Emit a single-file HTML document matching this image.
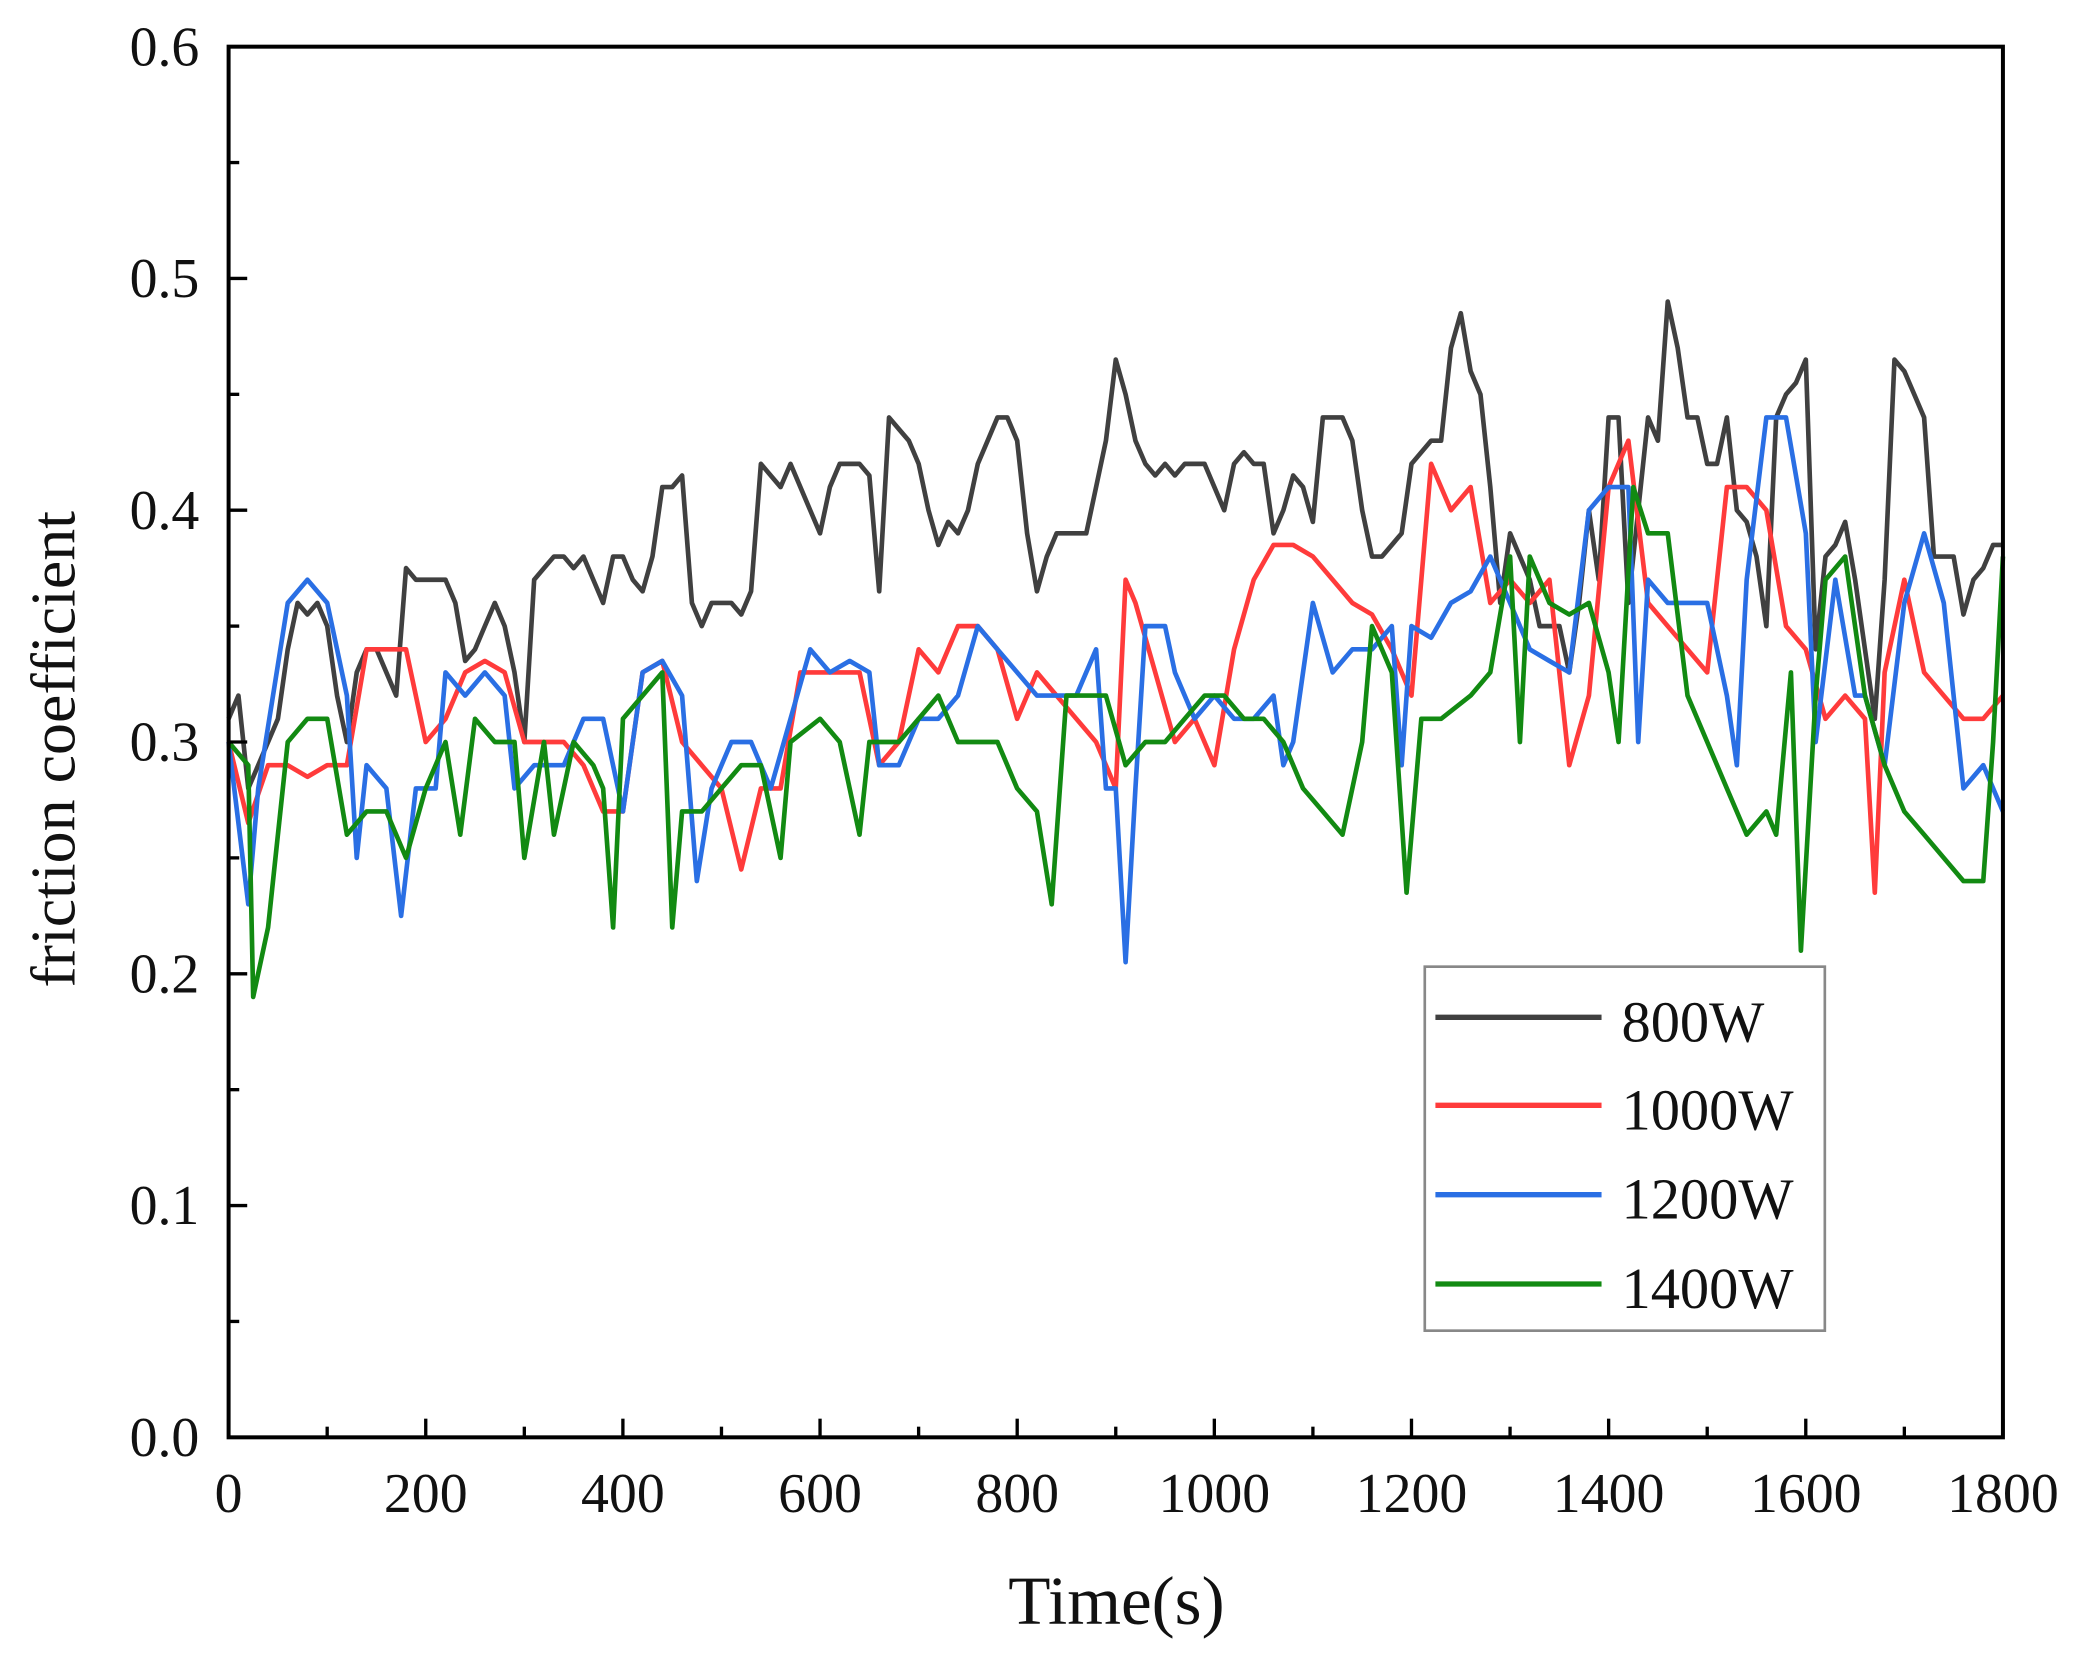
<!DOCTYPE html>
<html><head><meta charset="utf-8"><style>
html,body{margin:0;padding:0;background:#fff;}
svg{display:block;}
text{font-family:"Liberation Serif",serif;fill:#111;}
</style></head><body>
<svg id="chart" width="2084" height="1664" viewBox="0 0 1568 1248" preserveAspectRatio="none" xmlns="http://www.w3.org/2000/svg">
<g id="series"></g>
<g id="axes"></g>
<text x="840" y="1218" font-size="52" text-anchor="middle">Time(s)</text>
<text x="0" y="0" font-size="48" text-anchor="middle" transform="translate(56,562) rotate(-90)">friction coefficient</text>
<g>
<rect x="1072" y="725" width="301" height="273" fill="#fff" stroke="#888" stroke-width="2"/>
<line x1="1080" y1="763" x2="1205" y2="763" stroke="#404040" stroke-width="4"/>
<text x="1220" y="781" font-size="44">800W</text>
<line x1="1080" y1="829" x2="1205" y2="829" stroke="#ff3b3b" stroke-width="4"/>
<text x="1220" y="847" font-size="44">1000W</text>
<line x1="1080" y1="896" x2="1205" y2="896" stroke="#2a6fe4" stroke-width="4"/>
<text x="1220" y="914" font-size="44">1200W</text>
<line x1="1080" y1="963" x2="1205" y2="963" stroke="#128a12" stroke-width="4"/>
<text x="1220" y="981" font-size="44">1400W</text>
</g>
</svg>
<script>
const xTicks = [0,200,400,600,800,1000,1200,1400,1600,1800];
const yTicks = [0.0,0.1,0.2,0.3,0.4,0.5,0.6];
const yTickLabels = ["0.0","0.1","0.2","0.3","0.4","0.5","0.6"];
const seriesNames = ["800W","1000W","1200W","1400W"];

const t800 = [];
for (let i=0;i<=180;i++) t800.push(i*10);
const v800 = [0.31,0.32,0.28,0.29,0.30,0.31,0.34,0.36,0.355,0.36,0.35,0.32,0.30,0.33,0.34,0.34,0.33,0.32,0.375,0.37,0.37,0.37,0.37,0.36,0.335,0.34,0.35,0.36,0.35,0.33,0.30,0.37,0.375,0.38,0.38,0.375,0.38,0.37,0.36,0.38,0.38,0.37,0.365,0.38,0.41,0.41,0.415,0.36,0.35,0.36,0.36,0.36,0.355,0.365,0.42,0.415,0.41,0.42,0.41,0.40,0.39,0.41,0.42,0.42,0.42,0.415,0.365,0.44,0.435,0.43,0.42,0.40,0.385,0.395,0.39,0.40,0.42,0.43,0.44,0.44,0.43,0.39,0.365,0.38,0.39,0.39,0.39,0.39,0.41,0.43,0.465,0.45,0.43,0.42,0.415,0.42,0.415,0.42,0.42,0.42,0.41,0.40,0.42,0.425,0.42,0.42,0.39,0.40,0.415,0.41,0.395,0.44,0.44,0.44,0.43,0.40,0.38,0.38,0.385,0.39,0.42,0.425,0.43,0.43,0.47,0.485,0.46,0.45,0.41,0.36,0.39,0.38,0.37,0.35,0.35,0.35,0.33,0.36,0.40,0.37,0.44,0.44,0.36,0.40,0.44,0.43,0.49,0.47,0.44,0.44,0.42,0.42,0.44,0.40,0.395,0.38,0.35,0.44,0.45,0.455,0.465,0.34,0.38,0.385,0.395,0.37,0.34,0.31,0.37,0.465,0.46,0.45,0.44,0.38,0.38,0.38,0.355,0.37,0.375,0.385,0.385];

const t1000 = [0,20,40,60,80,100,120,140,160,180,200,220,240,260,280,300,320,340,360,380,400,420,440,460,480,500,520,540,560,580,600,620,640,660,680,700,720,740,760,780,800,820,840,860,880,900,910,920,940,960,980,1000,1020,1040,1060,1080,1100,1120,1140,1160,1180,1200,1220,1240,1260,1280,1300,1320,1340,1360,1380,1400,1420,1440,1460,1480,1500,1520,1540,1560,1580,1600,1620,1640,1660,1670,1680,1700,1720,1740,1760,1780,1800];
const v1000 = [0.30,0.265,0.29,0.29,0.285,0.29,0.29,0.34,0.34,0.34,0.30,0.31,0.33,0.335,0.33,0.30,0.30,0.30,0.29,0.27,0.27,0.33,0.335,0.30,0.29,0.28,0.245,0.28,0.28,0.33,0.33,0.33,0.33,0.29,0.30,0.34,0.33,0.35,0.35,0.34,0.31,0.33,0.32,0.31,0.30,0.28,0.37,0.36,0.33,0.30,0.31,0.29,0.34,0.37,0.385,0.385,0.38,0.37,0.36,0.355,0.34,0.32,0.42,0.40,0.41,0.36,0.37,0.36,0.37,0.29,0.32,0.41,0.43,0.36,0.35,0.34,0.33,0.41,0.41,0.40,0.35,0.34,0.31,0.32,0.31,0.235,0.33,0.37,0.33,0.32,0.31,0.31,0.32];

const t1200 = [0,20,30,60,80,100,120,130,140,160,175,190,210,220,240,260,280,290,310,340,360,380,400,420,440,460,475,490,510,530,550,570,590,610,630,650,660,680,700,720,740,760,780,800,820,840,860,880,890,900,910,920,930,950,960,980,1000,1020,1040,1060,1070,1080,1100,1120,1140,1160,1180,1190,1200,1220,1240,1260,1280,1300,1320,1340,1360,1380,1400,1420,1430,1440,1460,1480,1500,1520,1530,1540,1560,1580,1600,1610,1630,1650,1660,1680,1700,1720,1740,1760,1780,1800];
const v1200 = [0.30,0.23,0.28,0.36,0.37,0.36,0.32,0.25,0.29,0.28,0.225,0.28,0.28,0.33,0.32,0.33,0.32,0.28,0.29,0.29,0.31,0.31,0.27,0.33,0.335,0.32,0.24,0.28,0.30,0.30,0.28,0.31,0.34,0.33,0.335,0.33,0.29,0.29,0.31,0.31,0.32,0.35,0.34,0.33,0.32,0.32,0.32,0.34,0.28,0.28,0.205,0.28,0.35,0.35,0.33,0.31,0.32,0.31,0.31,0.32,0.29,0.30,0.36,0.33,0.34,0.34,0.35,0.29,0.35,0.345,0.36,0.365,0.38,0.36,0.34,0.335,0.33,0.40,0.41,0.41,0.30,0.37,0.36,0.36,0.36,0.32,0.29,0.37,0.44,0.44,0.39,0.30,0.37,0.32,0.32,0.29,0.36,0.39,0.36,0.28,0.29,0.27];

const t1400 = [0,20,25,40,60,80,100,120,140,160,180,200,220,235,250,270,290,300,320,330,350,370,380,390,400,420,440,450,460,480,500,520,540,560,570,600,620,640,650,680,700,720,740,760,780,800,820,835,850,870,890,910,930,950,970,990,1010,1030,1050,1070,1090,1110,1130,1150,1160,1180,1195,1210,1230,1260,1280,1300,1310,1320,1340,1360,1380,1400,1410,1425,1440,1460,1480,1500,1520,1540,1560,1570,1585,1595,1610,1620,1640,1660,1680,1700,1720,1740,1760,1780,1790,1800];
const v1400 = [0.30,0.29,0.19,0.22,0.30,0.31,0.31,0.26,0.27,0.27,0.25,0.28,0.30,0.26,0.31,0.30,0.30,0.25,0.30,0.26,0.30,0.29,0.28,0.22,0.31,0.32,0.33,0.22,0.27,0.27,0.28,0.29,0.29,0.25,0.30,0.31,0.30,0.26,0.30,0.30,0.31,0.32,0.30,0.30,0.30,0.28,0.27,0.23,0.32,0.32,0.32,0.29,0.30,0.30,0.31,0.32,0.32,0.31,0.31,0.30,0.28,0.27,0.26,0.30,0.35,0.33,0.235,0.31,0.31,0.32,0.33,0.38,0.30,0.38,0.36,0.355,0.36,0.33,0.30,0.41,0.39,0.39,0.32,0.30,0.28,0.26,0.27,0.26,0.33,0.21,0.32,0.37,0.38,0.32,0.29,0.27,0.26,0.25,0.24,0.24,0.30,0.38];

const X0=172, X1=1507, Y0=1078, Y1=35;
function xs(t){return X0+(t/1800)*(X1-X0);}
function ys(v){return Y0-(v/0.6)*(Y0-Y1);}
const NS="http://www.w3.org/2000/svg";
const sg=document.getElementById('series');
const ag=document.getElementById('axes');
function mk(tag,attrs){const e=document.createElementNS(NS,tag);for(const k in attrs)e.setAttribute(k,attrs[k]);return e;}

const allT=[t800,t1000,t1200,t1400], allV=[v800,v1000,v1200,v1400];
const colors=["#404040","#ff3b3b","#2a6fe4","#128a12"];
for(let s=0;s<4;s++){
  const pts=allT[s].map((t,i)=>xs(t).toFixed(1)+","+ys(allV[s][i]).toFixed(1)).join(" ");
  const pl=mk('polyline',{points:pts,fill:"none",stroke:colors[s],"stroke-width":"3.5","stroke-linejoin":"round"});
  
  
  sg.appendChild(pl);
}
const frame=mk('rect',{x:X0,y:Y1,width:X1-X0,height:Y0-Y1,fill:"none",stroke:"#000","stroke-width":"3"});


ag.appendChild(frame);
for(let t=0;t<=1800;t+=100){
  const major=t%200===0;
  const tk=mk('line',{x1:xs(t),x2:xs(t),y1:Y0,y2:Y0-(major?14:8),stroke:"#000","stroke-width":"2.5"});
  
  
  ag.appendChild(tk);
}
xTicks.forEach(t=>{
  const tx=mk('text',{x:xs(t),y:1134,"font-size":"42","text-anchor":"middle"});
  tx.textContent=String(t);
  
  
  ag.appendChild(tx);
});
for(let k=0;k<=12;k++){
  const v=k*0.05, major=k%2===0;
  const tk=mk('line',{x1:X0,x2:X0+(major?14:8),y1:ys(v),y2:ys(v),stroke:"#000","stroke-width":"2.5"});
  
  
  ag.appendChild(tk);
}
yTicks.forEach((v,i)=>{
  const tx=mk('text',{x:150,y:ys(v)+14,"font-size":"42","text-anchor":"end"});
  tx.textContent=yTickLabels[i];
  
  
  ag.appendChild(tx);
});
</script>
</body></html>
